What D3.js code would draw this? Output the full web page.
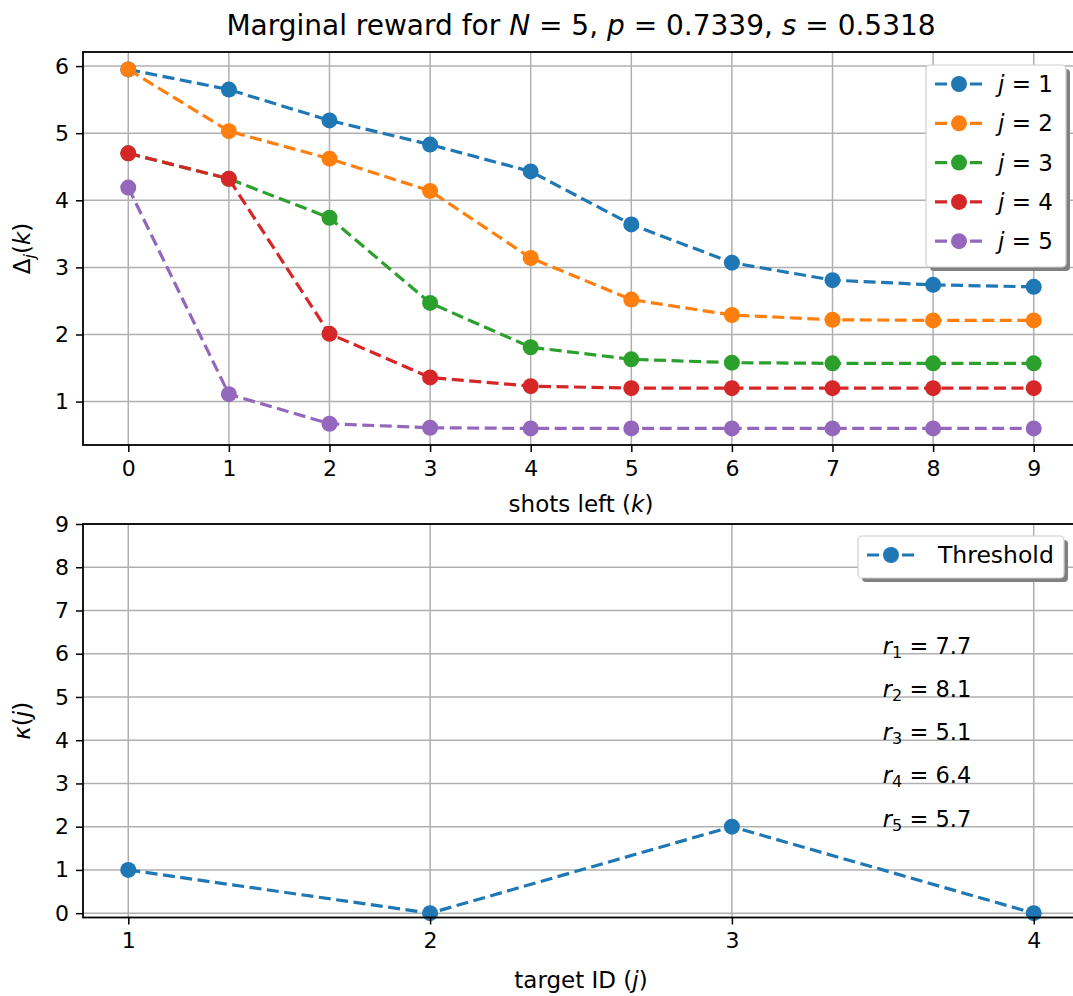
<!DOCTYPE html>
<html>
<head>
<meta charset="utf-8">
<script src="https://cdn.jsdelivr.net/npm/d3@7"></script>
<style>
  body { margin: 0; background: #fff; }
  svg { display: block; font-family: "DejaVu Sans", sans-serif; }
  .tick text { font-family: "DejaVu Sans", sans-serif; }
</style>
</head>
<body>
<div id="plot"></div>
<script>
// data
var shotsLeft = [0, 1, 2, 3, 4, 5, 6, 7, 8, 9];
var deltaJ1 = [5.95, 5.65, 5.19, 4.83, 4.43, 3.64, 3.07, 2.81, 2.74, 2.71];
var deltaJ2 = [5.95, 5.03, 4.62, 4.14, 3.14, 2.52, 2.29, 2.22, 2.21, 2.21];
var deltaJ3 = [4.70, 4.32, 3.74, 2.47, 1.81, 1.63, 1.58, 1.57, 1.57, 1.57];
var deltaJ4 = [4.70, 4.32, 2.01, 1.36, 1.23, 1.20, 1.20, 1.20, 1.20, 1.20];
var deltaJ5 = [4.19, 1.11, 0.67, 0.61, 0.60, 0.60, 0.60, 0.60, 0.60, 0.60];
var seriesNames = ["1", "2", "3", "4", "5"];
var colors = ["#1f77b4", "#ff7f0e", "#2ca02c", "#d62728", "#9467bd"];

var targetIds = [1, 2, 3, 4];
var kappa = [1, 0, 2, 0];
var rValues = ["7.7", "8.1", "5.1", "6.4", "5.7"];

var topYTicks = [1, 2, 3, 4, 5, 6];
var botYTicks = [0, 1, 2, 3, 4, 5, 6, 7, 8, 9];

var W = 1073, H = 996;
var left = 83, right = 1079;

var svg = d3.select("#plot").append("svg")
    .attr("width", W).attr("height", H);

var tickFont = "22px";

function styleAxis(g) {
  g.select(".domain").remove();
  g.selectAll(".tick line").attr("stroke", "#000").attr("stroke-width", 1.5);
  g.selectAll(".tick text").attr("fill", "#000").style("font-size", tickFont);
}

function grid(g, xs, ys, xticks, yticks, top, bottom) {
  g.selectAll(".gx").data(xticks).join("line")
    .attr("x1", d => xs(d)).attr("x2", d => xs(d))
    .attr("y1", top).attr("y2", bottom)
    .attr("stroke", "#b0b0b0").attr("stroke-width", 1.5);
  g.selectAll(".gy").data(yticks).join("line")
    .attr("x1", left).attr("x2", right)
    .attr("y1", d => ys(d)).attr("y2", d => ys(d))
    .attr("stroke", "#b0b0b0").attr("stroke-width", 1.5);
}

function drawLine(g, xs, ys, xv, yv, color) {
  var pts = xv.map((x, i) => [x, yv[i]]);
  g.append("path")
    .datum(pts)
    .attr("fill", "none")
    .attr("stroke", color)
    .attr("stroke-width", 3.2)
    .attr("stroke-dasharray", "12,5.5")
    .attr("d", d3.line().x(d => xs(d[0])).y(d => ys(d[1])));
  g.selectAll(null).data(pts).join("circle")
    .attr("cx", d => xs(d[0])).attr("cy", d => ys(d[1]))
    .attr("r", 8).attr("fill", color);
}

function legend(g, x0, y0, w, h, items) {
  g.append("rect").attr("x", x0 + 4).attr("y", y0 + 4).attr("width", w).attr("height", h)
    .attr("rx", 4).attr("fill", "#808080");
  g.append("rect").attr("x", x0).attr("y", y0).attr("width", w).attr("height", h)
    .attr("rx", 4).attr("fill", "#fff").attr("stroke", "#d0d0d0").attr("stroke-width", 1.2);
  items.forEach(function(it, i) {
    var cy = y0 + 19 + i * 39.3;
    g.append("line").attr("x1", x0 + 9).attr("x2", x0 + 57).attr("y1", cy).attr("y2", cy)
      .attr("stroke", it.color).attr("stroke-width", 3.2).attr("stroke-dasharray", "12,5.5");
    g.append("circle").attr("cx", x0 + 33).attr("cy", cy).attr("r", 8).attr("fill", it.color);
    var t = g.append("text").attr("x", x0 + it.tx).attr("y", cy + 8)
      .style("font-size", it.size).attr("fill", "#000");
    it.text(t);
  });
}

// ---------- top panel ----------
var top1 = 52, bot1 = 445;
var x1 = d3.scaleLinear().domain([-0.45, 9.45]).range([left, right]);
var y1 = d3.scaleLinear().domain([0.353, 6.21]).range([bot1, top1]);
var g1 = svg.append("g");
grid(g1, x1, y1, shotsLeft, topYTicks, top1, bot1);

var allDelta = [deltaJ1, deltaJ2, deltaJ3, deltaJ4, deltaJ5];
allDelta.forEach(function(vals, i) {
  drawLine(g1, x1, y1, shotsLeft, vals, colors[i]);
});

g1.append("g").attr("transform", `translate(0,${bot1})`)
  .call(d3.axisBottom(x1).tickValues(shotsLeft).tickFormat(d3.format("d")).tickSize(7).tickPadding(8))
  .call(styleAxis);
g1.append("g").attr("transform", `translate(${left},0)`)
  .call(d3.axisLeft(y1).tickValues(topYTicks).tickFormat(d3.format("d")).tickSize(7).tickPadding(7))
  .call(styleAxis);
g1.append("rect").attr("x", left).attr("y", top1).attr("width", right - left).attr("height", bot1 - top1)
  .attr("fill", "none").attr("stroke", "#000").attr("stroke-width", 1.8);

legend(g1, 926, 65, 140, 202, seriesNames.map(function(n, i) {
  return { color: colors[i], tx: 72, size: "23px", text: function(t) {
    t.append("tspan").style("font-style", "italic").text("j");
    t.append("tspan").text(" = " + n);
  } };
}));

// title
var title = svg.append("text").attr("x", 581).attr("y", 35).attr("text-anchor", "middle")
  .style("font-size", "28px").attr("fill", "#000");
title.append("tspan").text("Marginal reward for ");
title.append("tspan").style("font-style", "italic").text("N");
title.append("tspan").text(" = 5, ");
title.append("tspan").style("font-style", "italic").text("p");
title.append("tspan").text(" = 0.7339, ");
title.append("tspan").style("font-style", "italic").text("s");
title.append("tspan").text(" = 0.5318");

// x label top
var xl1 = svg.append("text").attr("x", 581).attr("y", 512).attr("text-anchor", "middle")
  .style("font-size", "23px");
xl1.append("tspan").text("shots left (");
xl1.append("tspan").style("font-style", "italic").text("k");
xl1.append("tspan").text(")");

var yl1 = svg.append("text").attr("transform", `translate(30,${(top1 + bot1) / 2}) rotate(-90)`)
  .attr("text-anchor", "middle").style("font-size", "23px");
yl1.append("tspan").text("Δ");
yl1.append("tspan").style("font-style", "italic").style("font-size", "16px").attr("dy", 5).text("j");
yl1.append("tspan").attr("dy", -5).text("(");
yl1.append("tspan").style("font-style", "italic").text("k");
yl1.append("tspan").text(")");

// ---------- bottom panel ----------
var top2 = 524, bot2 = 917.5;
var x2 = d3.scaleLinear().domain([0.85, 4.15]).range([left, right]);
var y2 = d3.scaleLinear().domain([-0.1, 9]).range([bot2, top2]);
var g2 = svg.append("g");
grid(g2, x2, y2, targetIds, botYTicks, top2, bot2);
drawLine(g2, x2, y2, targetIds, kappa, colors[0]);

g2.append("g").attr("transform", `translate(0,${bot2})`)
  .call(d3.axisBottom(x2).tickValues(targetIds).tickFormat(d3.format("d")).tickSize(7).tickPadding(8))
  .call(styleAxis);
g2.append("g").attr("transform", `translate(${left},0)`)
  .call(d3.axisLeft(y2).tickValues(botYTicks).tickFormat(d3.format("d")).tickSize(7).tickPadding(7))
  .call(styleAxis);
g2.append("rect").attr("x", left).attr("y", top2).attr("width", right - left).attr("height", bot2 - top2)
  .attr("fill", "none").attr("stroke", "#000").attr("stroke-width", 1.8);

// r annotations
rValues.forEach(function(v, i) {
  var t = g2.append("text").attr("x", x2(3.5)).attr("y", y2(6 - i))
    .style("font-size", "22.5px").attr("fill", "#000");
  t.append("tspan").style("font-style", "italic").text("r");
  t.append("tspan").style("font-size", "16px").attr("dy", 4).text(i + 1);
  t.append("tspan").attr("dy", -4).text(" = " + v);
});

legend(g2, 858, 536, 206, 42, [{ color: colors[0], tx: 80, size: "23.5px", text: function(t) { t.text("Threshold"); } }]);

var xl2 = svg.append("text").attr("x", 581).attr("y", 988).attr("text-anchor", "middle")
  .style("font-size", "23px");
xl2.append("tspan").text("target ID (");
xl2.append("tspan").style("font-style", "italic").text("j");
xl2.append("tspan").text(")");

var yl2 = svg.append("text").attr("transform", `translate(30,${(top2 + bot2) / 2}) rotate(-90)`)
  .attr("text-anchor", "middle").style("font-size", "23px");
yl2.append("tspan").style("font-style", "italic").text("κ");
yl2.append("tspan").text("(");
yl2.append("tspan").style("font-style", "italic").text("j");
yl2.append("tspan").text(")");
</script>
</body>
</html>
